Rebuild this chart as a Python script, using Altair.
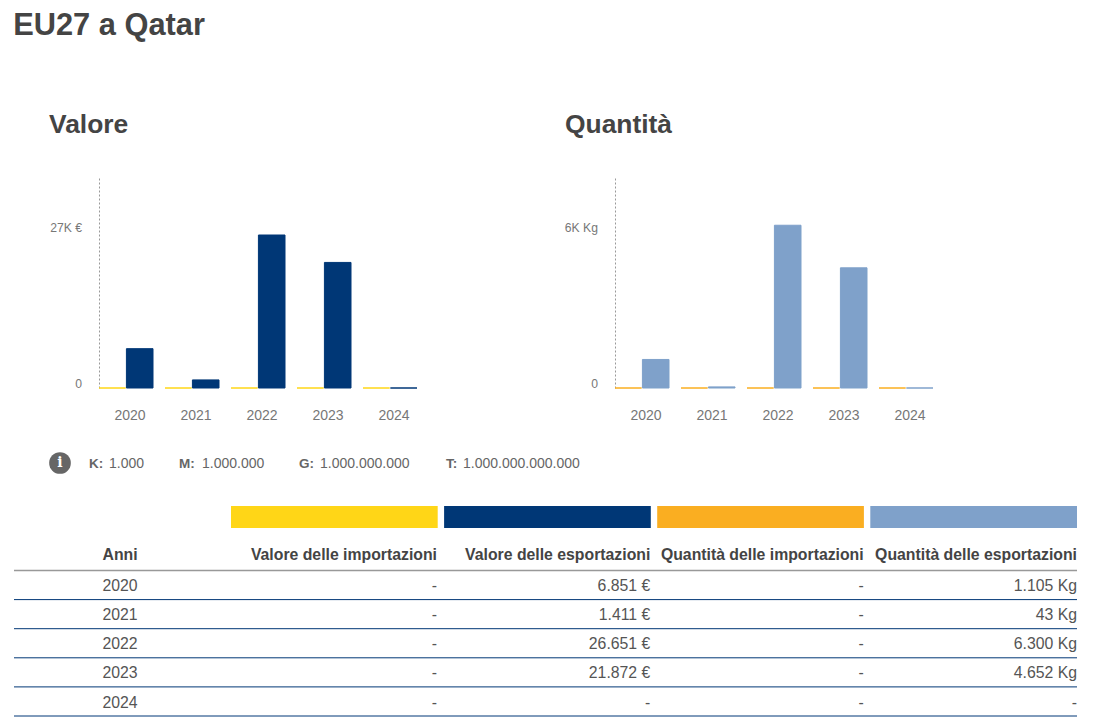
import altair as alt
import pandas as pd

FONT = "Liberation Sans"
years = ["2020", "2021", "2022", "2023", "2024"]
imp_val = [0, 0, 0, 0, 0]
exp_val = [6851, 1411, 26651, 21872, 0]
imp_qty = [0, 0, 0, 0, 0]
exp_qty = [1105, 43, 6300, 4652, 0]

headers = ["Valore delle importazioni", "Valore delle esportazioni",
           "Quantità delle importazioni", "Quantità delle esportazioni"]
swatches = ["#ffd617", "#003776", "#faae21", "#7fa1ca"]
col_imp_val = ["-", "-", "-", "-", "-"]
col_exp_val = ["6.851 €", "1.411 €", "26.651 €", "21.872 €", "-"]
col_imp_qty = ["-", "-", "-", "-", "-"]
col_exp_qty = ["1.105 Kg", "43 Kg", "6.300 Kg", "4.652 Kg", "-"]

info_keys = ["K:", "M:", "G:", "T:"]
info_vals = ["1.000", "1.000.000", "1.000.000.000", "1.000.000.000.000"]


def bars(title, names, a, b, colors, tick, tick_label, top):
    df = pd.DataFrame({
        "anno": years * 2,
        "serie": [names[0]] * 5 + [names[1]] * 5,
        "v": a + b,
    })
    color = alt.Scale(domain=names, range=colors)
    return alt.Chart(df, title=alt.TitleParams(
        title, anchor="start", dx=-50, fontSize=26.4, font=FONT, fontWeight="bold",
        color="#444444", offset=40, frame="group",
    )).mark_bar(strokeWidth=1).encode(
        x=alt.X("anno:N", scale=alt.Scale(domain=years, paddingInner=0.182, paddingOuter=0),
                axis=alt.Axis(title=None, labelAngle=0, labelOffset=4, labelPadding=20, ticks=False,
                              domain=False, grid=False, labelFont=FONT, labelFontSize=14,
                              labelColor="#777777")),
        xOffset=alt.XOffset("serie:N", scale=alt.Scale(domain=names, range=[0, 54], paddingInner=0.03,
                                                       paddingOuter=0)),
        y=alt.Y("v:Q", scale=alt.Scale(domain=[0, top], nice=False),
                axis=alt.Axis(title=None, values=[0, tick], grid=False, ticks=False, labelOffset=-5,
                              labelPadding=17.5, domainDash=[2, 2], domainColor="#999999",
                              labelExpr="datum.value == 0 ? '0' : '%s'" % tick_label,
                              labelFont=FONT, labelFontSize=12.2, labelColor="#777777")),
        color=alt.Color("serie:N", scale=color, legend=None),
        stroke=alt.Stroke("serie:N", scale=color, legend=None),
    ).properties(width=318, height=210)


valore = bars("Valore", headers[:2], imp_val, exp_val, swatches[:2], 27000, "27K €", 36580)
quantita = bars("Quantità", headers[2:], imp_qty, exp_qty, swatches[2:], 6000, "6K Kg", 8129)

# ----- table: its origin is the left edge of the Valore plot, so it reaches left of zero -----
LEFT = -85
row_dom = ["header"] + years
row_y = alt.Y("riga:N", axis=None, scale=alt.Scale(type="point", domain=row_dom, range=[106, 251.5], padding=0))
col_x = alt.X("col:N", axis=None, scale=alt.Scale(
    type="point", domain=headers, range=[LEFT + 423, LEFT + 1063], padding=0))
anni_x = alt.value(LEFT + 88.5)

cells = pd.DataFrame({
    "riga": years * 4,
    "col": sum([[h] * 5 for h in headers], []),
    "txt": col_imp_val + col_exp_val + col_imp_qty + col_exp_qty,
})
heads = pd.DataFrame({"riga": ["header"] * 4, "col": headers, "txt": headers})
anni = pd.DataFrame({"riga": years, "txt": years})
swatch_df = pd.DataFrame({"col": headers})

swatch_layer = alt.Chart(swatch_df).mark_bar().encode(
    x=alt.X("col:N", axis=None, scale=alt.Scale(domain=headers, range=[LEFT + 217, LEFT + 1063],
                                                paddingInner=0.03, paddingOuter=0)),
    y=alt.value(56), y2=alt.value(78),
    color=alt.Color("col:N", scale=alt.Scale(domain=headers, range=swatches), legend=None),
)
head_rule = alt.Chart(pd.DataFrame({"riga": ["header"]})).mark_rule(
    color="#999999", strokeWidth=1.6, yOffset=14.5
).encode(y=row_y, x=alt.value(LEFT), x2=alt.value(LEFT + 1063))
row_rule = alt.Chart(pd.DataFrame({"riga": years})).mark_rule(
    color="#003776", strokeWidth=1, yOffset=14.5
).encode(y=row_y, x=alt.value(LEFT), x2=alt.value(LEFT + 1063))
text_head_r = alt.Chart(heads).mark_text(
    align="right", font=FONT, fontSize=15.8, fontWeight="bold", color="#444444", dy=-1
).encode(x=col_x, y=row_y, text="txt:N")
text_head_l = alt.Chart(pd.DataFrame({"riga": ["header"], "txt": ["Anni"]})).mark_text(
    align="left", font=FONT, fontSize=15.8, fontWeight="bold", color="#444444", dy=-1
).encode(x=anni_x, y=row_y, text="txt:N")
text_anni = alt.Chart(anni).mark_text(
    align="left", font=FONT, fontSize=15.8, color="#555555", dy=1
).encode(x=anni_x, y=row_y, text="txt:N")
text_cells = alt.Chart(cells).mark_text(
    align="right", font=FONT, fontSize=15.8, color="#555555", dy=1
).encode(x=col_x, y=row_y, text="txt:N")

key_x = [75, 165, 285, 432]
val_x = [95, 188, 306, 449]
info_layers = []
for k, v, kx, vx in zip(info_keys, info_vals, key_x, val_x):
    info_layers.append(alt.Chart(pd.DataFrame({"t": [k]})).mark_text(
        align="left", font=FONT, fontSize=13.5, fontWeight="bold", color="#666666"
    ).encode(x=alt.value(LEFT + kx), y=alt.value(14), text="t:N"))
    info_layers.append(alt.Chart(pd.DataFrame({"t": [v]})).mark_text(
        align="left", font=FONT, fontSize=14, color="#666666"
    ).encode(x=alt.value(LEFT + vx), y=alt.value(14), text="t:N"))
icon_df = pd.DataFrame({"i": ["i"]})
icon = alt.Chart(icon_df).mark_point(filled=True, size=470, color="#666666", opacity=1).encode(
    x=alt.value(LEFT + 46), y=alt.value(13))
icon_i = alt.Chart(icon_df).mark_text(
    font="DejaVu Serif", fontSize=14, fontWeight="bold", color="white"
).encode(x=alt.value(LEFT + 46), y=alt.value(13), text="i:N")

table = alt.layer(
    swatch_layer, head_rule, row_rule, text_head_r, text_head_l, text_anni, text_cells,
    *info_layers, icon, icon_i,
).resolve_scale(x="independent", color="independent").properties(width=318, height=270)

chart = alt.concat(
    valore, quantita, table,
    columns=2, align="none", bounds="flush",
    spacing=alt.RowColnumber(row=62, column=198),
).resolve_scale(color="independent", stroke="independent", xOffset="independent").properties(
    title=alt.TitleParams("EU27 a Qatar", anchor="start", fontSize=30.8, font=FONT, fontWeight="bold",
                          color="#444444", offset=70, frame="bounds"),
    padding={"left": 5, "top": 1, "right": 0, "bottom": 0},
    background="white",
).configure_view(stroke=None)

chart.save("out.html", embed_options={"renderer": "svg", "actions": False})
